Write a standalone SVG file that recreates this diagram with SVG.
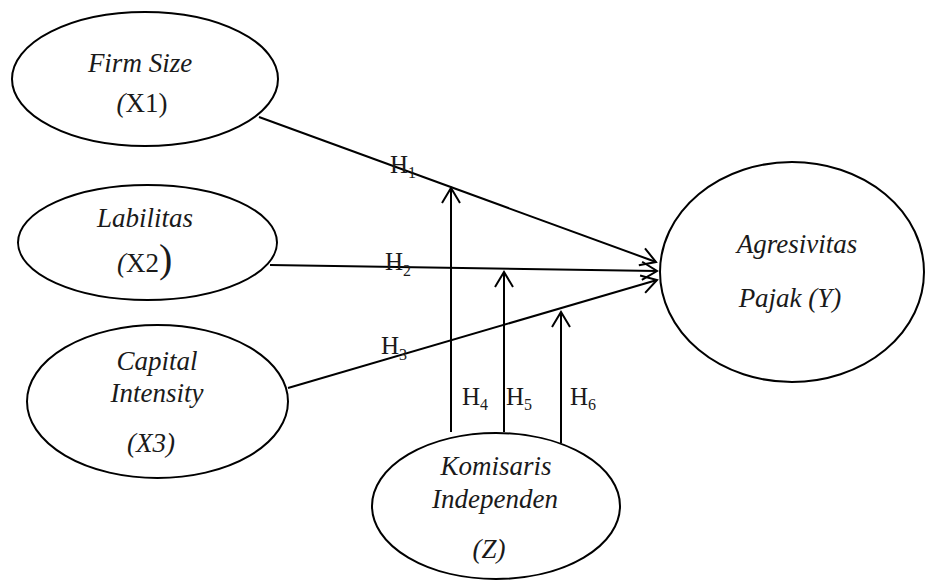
<svg xmlns="http://www.w3.org/2000/svg" width="925" height="582" viewBox="0 0 925 582">
<style>
.node ellipse{fill:#fff;stroke:#000;stroke-width:2}
text{font-family:"Liberation Serif","Tinos","Times New Roman",serif;fill:#1a1a1a;font-size:27px}
.i{font-style:italic}
.c{text-anchor:middle}
.h{font-size:25px}
.s{font-size:16px}
.conn line{stroke:#000;stroke-width:2;fill:none}
</style>
<defs>
<marker id="arr" markerUnits="userSpaceOnUse" markerWidth="20" markerHeight="22" refX="16" refY="10" orient="auto" viewBox="0 0 20 20" overflow="visible">
<path d="M1,1 L16,10 L1,19" fill="none" stroke="#000" stroke-width="2"/>
</marker>
</defs>
<g class="conn" id="connectors">
<line x1="259" y1="117" x2="656" y2="262" marker-end="url(#arr)"/>
<line x1="270" y1="265" x2="657" y2="271" marker-end="url(#arr)"/>
<line x1="288" y1="388" x2="657" y2="280" marker-end="url(#arr)"/>
<line x1="451" y1="432" x2="451" y2="188" marker-end="url(#arr)"/>
<line x1="504" y1="432" x2="504" y2="272" marker-end="url(#arr)"/>
<line x1="561" y1="443" x2="561" y2="312" marker-end="url(#arr)"/>
<text class="h" x="390" y="173">H<tspan class="s" dy="5">1</tspan></text>
<text class="h" x="385" y="270">H<tspan class="s" dy="6">2</tspan></text>
<text class="h" x="381" y="354">H<tspan class="s" dy="6">3</tspan></text>
<text class="h" x="462" y="405">H<tspan class="s" dy="5">4</tspan></text>
<text class="h" x="506" y="405">H<tspan class="s" dy="5">5</tspan></text>
<text class="h" x="570" y="405">H<tspan class="s" dy="5">6</tspan></text>
</g>
<g class="node" id="x1">
<ellipse cx="145" cy="79" rx="133" ry="67"/>
<text class="i c" x="140" y="72">Firm Size</text>
<text class="c" x="142" y="112"><tspan class="i">(</tspan>X1)</text>
</g>
<g class="node" id="x2">
<ellipse cx="147.5" cy="242.5" rx="129.5" ry="57.5"/>
<text class="i c" x="145" y="227">Labilitas</text>
<text x="117" y="272"><tspan class="i">(</tspan>X2<tspan font-size="40px">)</tspan></text>
</g>
<g class="node" id="x3">
<ellipse cx="157.5" cy="401.5" rx="130.5" ry="76.5"/>
<text class="i c" x="157" y="370">Capital</text>
<text class="i c" x="157" y="402">Intensity</text>
<text class="i c" x="151" y="452">(X3)</text>
</g>
<g class="node" id="y">
<ellipse cx="792" cy="272" rx="132" ry="110"/>
<text class="i c" x="797" y="253">Agresivitas</text>
<text class="i c" x="790" y="307">Pajak (Y)</text>
</g>
<g class="node" id="z">
<ellipse cx="496" cy="506" rx="124" ry="73"/>
<text class="i c" x="496" y="475">Komisaris</text>
<text class="i c" x="495" y="508">Independen</text>
<text class="i c" x="489" y="558">(Z)</text>
</g>
</svg>
